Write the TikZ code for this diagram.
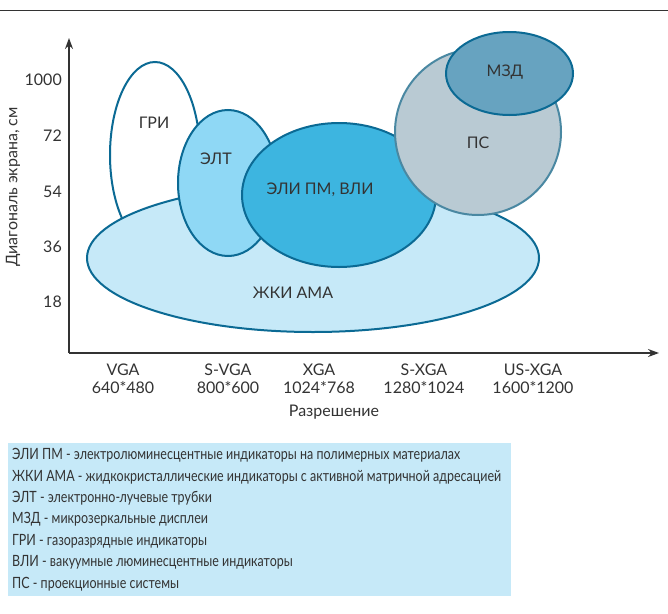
\documentclass[tikz,border=0pt]{standalone}
\usepackage{fontspec}
\setmainfont{Lato}
\newfontfamily\legfont[FakeStretch=0.805]{Lato}
\usetikzlibrary{arrows.meta}
\definecolor{edgeblue}{HTML}{0B6A94}
\definecolor{psedge}{HTML}{4A88A2}
\definecolor{eltfill}{HTML}{8FD8F5}
\definecolor{elifill}{HTML}{3DB5E0}
\definecolor{lcdfill}{HTML}{C6E9F8}
\definecolor{psfill}{HTML}{B9CAD3}
\definecolor{mzdfill}{HTML}{67A3C0}
\definecolor{txt}{HTML}{333333}
\definecolor{axisgray}{HTML}{333333}
\tikzset{
  blob/.style={draw=edgeblue, line width=2pt},
  lbl/.style={text=txt, inner sep=0pt, font=\fontsize{16}{18.5}\selectfont},
  tick/.style={lbl, anchor=east},
  xlbl/.style={lbl, align=center},
  leg/.style={text=txt, inner sep=0pt, anchor=west, font=\legfont\fontsize{15.5}{17}\selectfont},
  axisline/.style={draw=axisgray, line width=1.6pt, -{Stealth[length=11pt,width=8pt]}},
}
\begin{document}
\begin{tikzpicture}[x=1pt,y=-1pt]
\useasboundingbox (0,0) rectangle (668,613);
% top rule
\coordinate (tl) at (0,10);
\coordinate (tr) at (668,10);
\draw[draw=axisgray, line width=1pt] (tl) -- (tr);
% shapes
\path[blob, fill=white] (155,155) ellipse [x radius=45pt, y radius=93pt];
\path[blob, fill=lcdfill] (313,258) ellipse [x radius=226pt, y radius=74pt];
\path[blob, fill=eltfill] (228,183) ellipse [x radius=50pt, y radius=73pt];
\path[blob, fill=elifill] (339,195) ellipse [x radius=97pt, y radius=72pt];
\path[blob, draw=psedge, fill=psfill] (478,132) ellipse [x radius=83pt, y radius=83pt];
\path[blob, fill=mzdfill] (509.5,73.5) ellipse [x radius=63.5pt, y radius=41.5pt];
% labels in shapes
\node[lbl] (gri) at (154,123) {ГРИ};
\node[lbl] (elt) at (216,159) {ЭЛТ};
\node[lbl] (eli) at (320,190) {ЭЛИ ПМ, ВЛИ};
\node[lbl] (lcd) at (293,293) {ЖКИ АМА};
\node[lbl] (ps) at (478,143) {ПС};
\node[lbl] (mzd) at (505,72) {МЗД};
% axes
\coordinate (O) at (69,353);
\coordinate (ytip) at (69,38);
\coordinate (xtip) at (659,353);
\draw[axisline] (O) -- (ytip);
\draw[axisline] (O) -- (xtip);
% y ticks
\node[tick] (y1000) at (62,80) {1000};
\node[tick] (y72) at (62,136) {72};
\node[tick] (y54) at (62,192) {54};
\node[tick] (y36) at (62,247) {36};
\node[tick] (y18) at (62,302) {18};
\node[lbl, rotate=90] (ytitle) at (13,187) {Диагональ экрана, см};
% x labels
\node[xlbl] (vga) at (123,379) {VGA\\640*480};
\node[xlbl] (svga) at (228,379) {S-VGA\\800*600};
\node[xlbl] (xga) at (319,379) {XGA\\1024*768};
\node[xlbl] (sxga) at (424,379) {S-XGA\\1280*1024};
\node[xlbl] (usxga) at (533,379) {US-XGA\\1600*1200};
\node[lbl] (xtitle) at (334,412) {Разрешение};
% legend
\path[fill=lcdfill] (8,443) rectangle (511,596);
\node[leg] (l1) at (12,455) {ЭЛИ ПМ - электролюминесцентные индикаторы на полимерных материалах};
\node[leg] (l2) at (12,477) {ЖКИ АМА - жидкокристаллические индикаторы с активной матричной адресацией};
\node[leg] (l3) at (12,498) {ЭЛТ - электронно-лучевые трубки};
\node[leg] (l4) at (12,519) {МЗД - микрозеркальные дисплеи};
\node[leg] (l5) at (12,541) {ГРИ - газоразрядные индикаторы};
\node[leg] (l6) at (12,562) {ВЛИ - вакуумные люминесцентные индикаторы};
\node[leg] (l7) at (12,584) {ПС - проекционные системы};
\end{tikzpicture}
\end{document}
